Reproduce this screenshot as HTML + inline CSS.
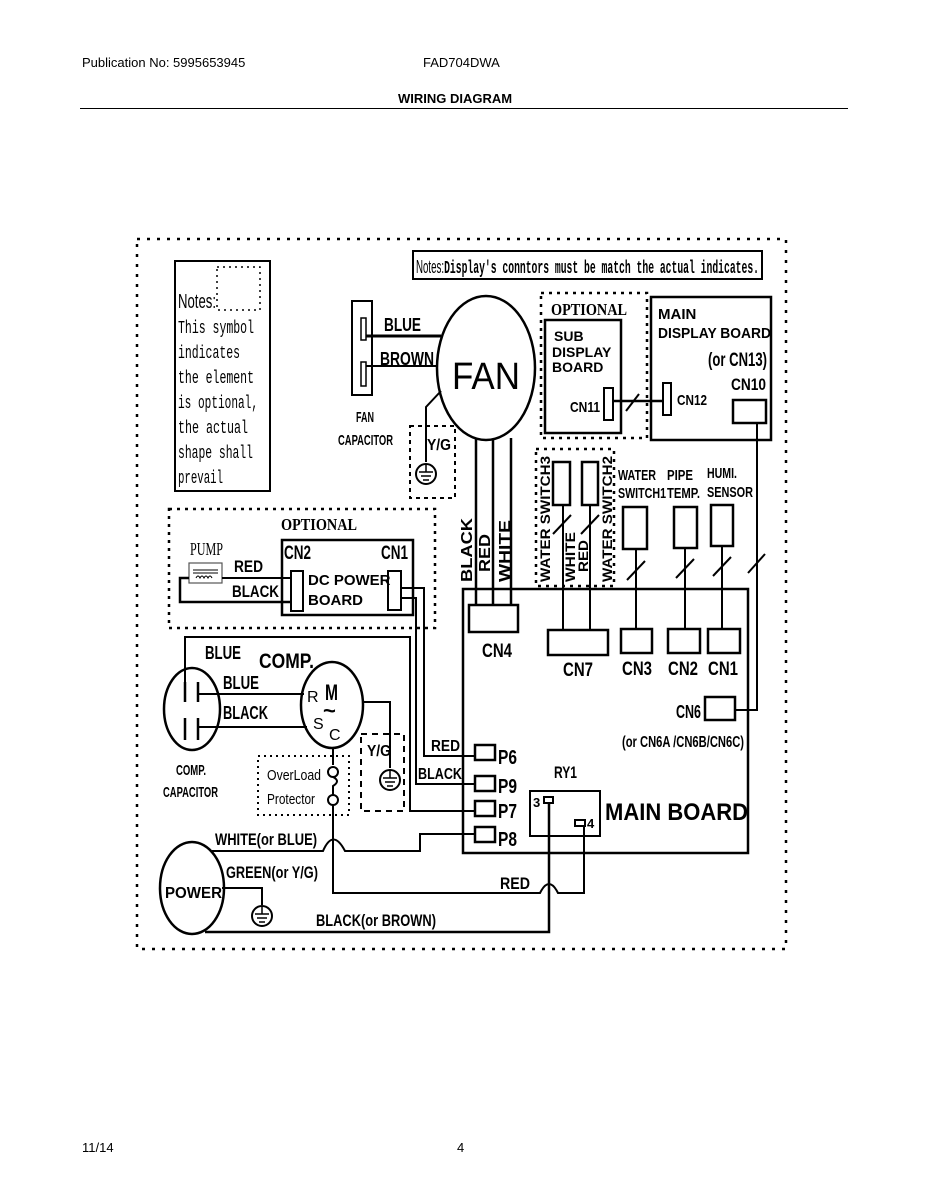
<!DOCTYPE html>
<html><head><meta charset="utf-8"><style>
html,body{margin:0;padding:0;background:#fff;}
svg{display:block;}
text{font-family:"Liberation Sans",sans-serif;fill:#000;}
.b text,text.b{font-weight:bold;}
.m text,text.m{font-family:"Liberation Mono",monospace;}
text.s{font-family:"Liberation Serif",serif;}
</style></head><body>
<svg width="927" height="1200" viewBox="0 0 927 1200" xmlns="http://www.w3.org/2000/svg">
<rect width="927" height="1200" fill="#fff"/>
<!-- header -->
<text x="82" y="67" font-size="13">Publication No: 5995653945</text>
<text x="423" y="67" font-size="13">FAD704DWA</text>
<text x="398" y="103" font-size="13" class="b">WIRING DIAGRAM</text>
<line x1="80" y1="108.5" x2="848" y2="108.5" stroke="#000" stroke-width="1"/>
<text x="82" y="1152" font-size="13">11/14</text>
<text x="457" y="1152" font-size="13">4</text>

<g fill="none" stroke="#000">
<rect x="137" y="239" width="649" height="710" stroke-width="2.5" stroke-dasharray="3,7"/>
<rect x="175" y="261" width="95" height="230" stroke-width="2"/>
<path d="M217 267 H260 V310 H217 Z" stroke-width="1.5" stroke-dasharray="2,4"/>
<rect x="413" y="251" width="349" height="28" stroke-width="2"/>
<rect x="352" y="301" width="20" height="94" stroke-width="2"/>
<rect x="361" y="318" width="5" height="22" stroke-width="1.5"/>
<rect x="361" y="362" width="5" height="24" stroke-width="1.5"/>
<line x1="366" y1="336" x2="441" y2="336" stroke-width="3"/>
<line x1="366" y1="366" x2="437" y2="366" stroke-width="2"/>
<ellipse cx="486" cy="368" rx="49" ry="72" stroke-width="2.5"/>
<path d="M441 391 L426 407 V462" stroke-width="2"/>
<rect x="410" y="426" width="45" height="72" stroke-width="2" stroke-dasharray="4,4"/>
<line x1="476" y1="438" x2="476" y2="605" stroke-width="2.5"/>
<line x1="493" y1="440" x2="493" y2="605" stroke-width="2.5"/>
<line x1="511" y1="438" x2="511" y2="605" stroke-width="2.5"/>
<rect x="469" y="605" width="49" height="27" stroke-width="2.5"/>
<rect x="541" y="293" width="106" height="145" stroke-width="2.5" stroke-dasharray="3,5"/>
<rect x="545" y="320" width="76" height="113" stroke-width="2.5"/>
<rect x="604" y="388" width="9" height="32" stroke-width="2"/>
<line x1="613" y1="401" x2="663" y2="401" stroke-width="2.5"/>
<line x1="626" y1="411" x2="639" y2="394" stroke-width="2"/>
<rect x="651" y="297" width="120" height="143" stroke-width="2.5"/>
<rect x="663" y="383" width="8" height="32" stroke-width="2"/>
<rect x="733" y="400" width="33" height="23" stroke-width="2.5"/>
<rect x="536" y="449" width="78" height="137" stroke-width="2.5" stroke-dasharray="3,5"/>
<rect x="553" y="462" width="17" height="43" stroke-width="2.5"/>
<rect x="582" y="462" width="16" height="43" stroke-width="2.5"/>
<rect x="623" y="507" width="24" height="42" stroke-width="2.5"/>
<rect x="674" y="507" width="23" height="41" stroke-width="2.5"/>
<rect x="711" y="505" width="22" height="41" stroke-width="2.5"/>
<line x1="563" y1="505" x2="563" y2="630" stroke-width="2"/>
<line x1="590" y1="505" x2="590" y2="630" stroke-width="2"/>
<line x1="636" y1="549" x2="636" y2="628" stroke-width="2"/>
<line x1="685" y1="548" x2="685" y2="628" stroke-width="2"/>
<line x1="722" y1="546" x2="722" y2="628" stroke-width="2"/>
<line x1="553" y1="534" x2="571" y2="515" stroke-width="2"/>
<line x1="581" y1="534" x2="599" y2="515" stroke-width="2"/>
<line x1="627" y1="580" x2="645" y2="561" stroke-width="2"/>
<line x1="676" y1="578" x2="694" y2="559" stroke-width="2"/>
<line x1="713" y1="576" x2="731" y2="557" stroke-width="2"/>
<line x1="748" y1="573" x2="765" y2="554" stroke-width="2"/>
<path d="M757 423 V710 H735" stroke-width="2"/>
<rect x="463" y="589" width="285" height="264" stroke-width="2.5"/>
<rect x="548" y="630" width="60" height="25" stroke-width="2.5"/>
<rect x="621" y="629" width="31" height="24" stroke-width="2.5"/>
<rect x="668" y="629" width="32" height="24" stroke-width="2.5"/>
<rect x="708" y="629" width="32" height="24" stroke-width="2.5"/>
<rect x="705" y="697" width="30" height="23" stroke-width="2.5"/>
<rect x="475" y="745" width="20" height="15" stroke-width="2.5"/>
<rect x="475" y="776" width="20" height="15" stroke-width="2.5"/>
<rect x="475" y="801" width="20" height="15" stroke-width="2.5"/>
<rect x="475" y="827" width="20" height="15" stroke-width="2.5"/>
<rect x="530" y="791" width="70" height="45" stroke-width="2"/>
<rect x="544" y="797" width="9" height="6" stroke-width="2"/>
<rect x="575" y="820" width="10" height="6" stroke-width="2"/>
<rect x="169" y="509" width="266" height="119" stroke-width="2.5" stroke-dasharray="3,5"/>
<rect x="282" y="540" width="131" height="75" stroke-width="2.5"/>
<rect x="291" y="571" width="12" height="40" stroke-width="2"/>
<rect x="388" y="571" width="13" height="39" stroke-width="2"/>
<rect x="189" y="563" width="33" height="20" stroke-width="1.2" stroke="#555"/>
<path d="M193 570 H218 M193 573 H218" stroke-width="1"/>
<path d="M196 578 q2 -4 4 0 q2 -4 4 0 q2 -4 4 0 q2 -4 4 0" stroke-width="1"/>
<path d="M222 578 H291" stroke-width="2"/>
<path d="M189 578 H180 V602 H291" stroke-width="2.5"/>
<path d="M401 588 H424 V756 H475" stroke-width="2"/>
<path d="M401 598 H416 V784 H475" stroke-width="2"/>
<ellipse cx="192" cy="709" rx="28" ry="41" stroke-width="2.5"/>
<path d="M185 682 V702 M198 682 V702 M185 718 V740 M198 718 V740" stroke-width="2.5"/>
<path d="M185 682 V637 H410 V811 H475" stroke-width="2"/>
<path d="M198 694 H304" stroke-width="2"/>
<path d="M198 727 H307" stroke-width="2"/>
<ellipse cx="332" cy="705" rx="31" ry="43" stroke-width="2.5"/>
<path d="M363 702 H390 V768" stroke-width="2"/>
<rect x="361" y="734" width="43" height="77" stroke-width="2" stroke-dasharray="6,5"/>
<rect x="258" y="756" width="91" height="59" stroke-width="2" stroke-dasharray="2,4"/>
<path d="M333 748 V765" stroke-width="2"/>
<circle cx="333" cy="772" r="5" stroke-width="2"/>
<circle cx="333" cy="800" r="5" stroke-width="2"/>
<path d="M333 777 Q341 781 333 786 V795" stroke-width="2"/>
<path d="M333 805 V893 H540 Q549 875 558 893 H584 V826" stroke-width="2"/>
<ellipse cx="192" cy="888" rx="32" ry="46" stroke-width="2.5"/>
<path d="M212 851 H323 Q333 828 345 851 H420 V834 H475" stroke-width="2"/>
<path d="M222 888 H262 V905" stroke-width="2"/>
<path d="M205 932 H549 V803" stroke-width="2.5"/>
</g>

<g fill="#fff" stroke="#000" stroke-width="2">
<circle cx="426" cy="474" r="10"/>
<circle cx="390" cy="780" r="10"/>
<circle cx="262" cy="916" r="10"/>
</g>
<g stroke="#000" stroke-width="1.5">
<path d="M426 464 V472 M419 472 H433 M421 476 H431 M423 480 H429"/>
<path d="M390 770 V778 M383 778 H397 M385 782 H395 M387 786 H393"/>
<path d="M262 906 V914 M255 914 H269 M257 918 H267 M259 922 H265"/>
</g>

<text x="178" y="308" font-size="20" textLength="38" lengthAdjust="spacingAndGlyphs">Notes:</text>
<g class="m" font-size="18">
<text x="178" y="333" textLength="76" lengthAdjust="spacingAndGlyphs">This symbol</text>
<text x="178" y="358" textLength="62" lengthAdjust="spacingAndGlyphs">indicates</text>
<text x="178" y="383" textLength="76" lengthAdjust="spacingAndGlyphs">the element</text>
<text x="178" y="408" textLength="80" lengthAdjust="spacingAndGlyphs">is optional,</text>
<text x="178" y="433" textLength="70" lengthAdjust="spacingAndGlyphs">the actual</text>
<text x="178" y="458" textLength="75" lengthAdjust="spacingAndGlyphs">shape shall</text>
<text x="178" y="483" textLength="45" lengthAdjust="spacingAndGlyphs">prevail</text>
</g>
<text x="416" y="273" font-size="18" textLength="343" lengthAdjust="spacingAndGlyphs"><tspan>Notes:</tspan><tspan style="font-family:'Liberation Mono',monospace" font-weight="bold">Display's conntors must be match the actual indicates.</tspan></text>

<g class="b">
<text x="384" y="331" font-size="18" textLength="37" lengthAdjust="spacingAndGlyphs">BLUE</text>
<text x="380" y="365" font-size="18" textLength="54" lengthAdjust="spacingAndGlyphs">BROWN</text>
<text x="452" y="389" font-size="38" textLength="68" lengthAdjust="spacingAndGlyphs" style="font-weight:normal">FAN</text>
<text x="356" y="422" font-size="15" textLength="18" lengthAdjust="spacingAndGlyphs">FAN</text>
<text x="338" y="445" font-size="15" textLength="55" lengthAdjust="spacingAndGlyphs">CAPACITOR</text>
<text x="427" y="450" font-size="16" textLength="24" lengthAdjust="spacingAndGlyphs">Y/G</text>
<text x="554" y="341" font-size="14">SUB</text>
<text x="552" y="357" font-size="14">DISPLAY</text>
<text x="552" y="372" font-size="14">BOARD</text>
<text x="570" y="412" font-size="15" textLength="30" lengthAdjust="spacingAndGlyphs">CN11</text>
<text x="677" y="405" font-size="15" textLength="30" lengthAdjust="spacingAndGlyphs">CN12</text>
<text x="658" y="319" font-size="15">MAIN</text>
<text x="658" y="338" font-size="15" textLength="113" lengthAdjust="spacingAndGlyphs">DISPLAY BOARD</text>
<text x="708" y="366" font-size="19" textLength="59" lengthAdjust="spacingAndGlyphs">(or CN13)</text>
<text x="731" y="390" font-size="17" textLength="35" lengthAdjust="spacingAndGlyphs">CN10</text>
<text x="618" y="480" font-size="15" textLength="38" lengthAdjust="spacingAndGlyphs">WATER</text>
<text x="618" y="498" font-size="15" textLength="48" lengthAdjust="spacingAndGlyphs">SWITCH1</text>
<text x="667" y="480" font-size="15" textLength="26" lengthAdjust="spacingAndGlyphs">PIPE</text>
<text x="667" y="498" font-size="15" textLength="33" lengthAdjust="spacingAndGlyphs">TEMP.</text>
<text x="707" y="478" font-size="15" textLength="30" lengthAdjust="spacingAndGlyphs">HUMI.</text>
<text x="707" y="497" font-size="15" textLength="46" lengthAdjust="spacingAndGlyphs">SENSOR</text>
<text transform="translate(472,582) rotate(-90)" font-size="16" textLength="64" lengthAdjust="spacingAndGlyphs">BLACK</text>
<text transform="translate(490,572) rotate(-90)" font-size="16" textLength="38" lengthAdjust="spacingAndGlyphs">RED</text>
<text transform="translate(510,582) rotate(-90)" font-size="16" textLength="62" lengthAdjust="spacingAndGlyphs">WHITE</text>
<text transform="translate(550,582) rotate(-90)" font-size="14" textLength="126" lengthAdjust="spacingAndGlyphs">WATER SWITCH3</text>
<text transform="translate(575,582) rotate(-90)" font-size="14" textLength="50" lengthAdjust="spacingAndGlyphs">WHITE</text>
<text transform="translate(588,572) rotate(-90)" font-size="14" textLength="32" lengthAdjust="spacingAndGlyphs">RED</text>
<text transform="translate(612,582) rotate(-90)" font-size="14" textLength="126" lengthAdjust="spacingAndGlyphs">WATER SWITCH2</text>
<text x="482" y="657" font-size="19" textLength="30" lengthAdjust="spacingAndGlyphs">CN4</text>
<text x="563" y="676" font-size="19" textLength="30" lengthAdjust="spacingAndGlyphs">CN7</text>
<text x="622" y="675" font-size="19" textLength="30" lengthAdjust="spacingAndGlyphs">CN3</text>
<text x="668" y="675" font-size="19" textLength="30" lengthAdjust="spacingAndGlyphs">CN2</text>
<text x="708" y="675" font-size="19" textLength="30" lengthAdjust="spacingAndGlyphs">CN1</text>
<text x="676" y="718" font-size="18" textLength="25" lengthAdjust="spacingAndGlyphs">CN6</text>
<text x="622" y="747" font-size="16" textLength="122" lengthAdjust="spacingAndGlyphs">(or CN6A /CN6B/CN6C)</text>
<text x="554" y="778" font-size="17" textLength="23" lengthAdjust="spacingAndGlyphs">RY1</text>
<text x="533" y="807" font-size="13">3</text>
<text x="587" y="828" font-size="13">4</text>
<text x="605" y="820" font-size="24" textLength="143" lengthAdjust="spacingAndGlyphs">MAIN BOARD</text>
<text x="498" y="764" font-size="20" textLength="19" lengthAdjust="spacingAndGlyphs">P6</text>
<text x="498" y="793" font-size="20" textLength="19" lengthAdjust="spacingAndGlyphs">P9</text>
<text x="498" y="818" font-size="20" textLength="19" lengthAdjust="spacingAndGlyphs">P7</text>
<text x="498" y="846" font-size="20" textLength="19" lengthAdjust="spacingAndGlyphs">P8</text>
<text x="431" y="751" font-size="16" textLength="29" lengthAdjust="spacingAndGlyphs">RED</text>
<text x="418" y="779" font-size="16" textLength="44" lengthAdjust="spacingAndGlyphs">BLACK</text>
<text x="284" y="559" font-size="19" textLength="27" lengthAdjust="spacingAndGlyphs">CN2</text>
<text x="381" y="559" font-size="19" textLength="27" lengthAdjust="spacingAndGlyphs">CN1</text>
<text x="308" y="585" font-size="15">DC POWER</text>
<text x="308" y="605" font-size="15">BOARD</text>
<text x="234" y="572" font-size="17" textLength="29" lengthAdjust="spacingAndGlyphs">RED</text>
<text x="232" y="597" font-size="17" textLength="47" lengthAdjust="spacingAndGlyphs">BLACK</text>
<text x="205" y="659" font-size="18" textLength="36" lengthAdjust="spacingAndGlyphs">BLUE</text>
<text x="223" y="689" font-size="18" textLength="36" lengthAdjust="spacingAndGlyphs">BLUE</text>
<text x="223" y="719" font-size="18" textLength="45" lengthAdjust="spacingAndGlyphs">BLACK</text>
<text x="259" y="668" font-size="21" textLength="55" lengthAdjust="spacingAndGlyphs">COMP.</text>
<text x="307" y="702" font-size="16" style="font-weight:normal">R</text>
<text x="313" y="729" font-size="16" style="font-weight:normal">S</text>
<text x="329" y="740" font-size="16" style="font-weight:normal">C</text>
<text x="325" y="700" font-size="22" textLength="13" lengthAdjust="spacingAndGlyphs">M</text>
<text x="323" y="718" font-size="22">~</text>
<text x="176" y="775" font-size="15" textLength="30" lengthAdjust="spacingAndGlyphs">COMP.</text>
<text x="163" y="797" font-size="15" textLength="55" lengthAdjust="spacingAndGlyphs">CAPACITOR</text>
<text x="367" y="756" font-size="16" textLength="24" lengthAdjust="spacingAndGlyphs">Y/G</text>
<text x="215" y="845" font-size="17" textLength="102" lengthAdjust="spacingAndGlyphs">WHITE(or BLUE)</text>
<text x="226" y="878" font-size="17" textLength="92" lengthAdjust="spacingAndGlyphs">GREEN(or Y/G)</text>
<text x="165" y="898" font-size="16" textLength="57" lengthAdjust="spacingAndGlyphs">POWER</text>
<text x="316" y="926" font-size="17" textLength="120" lengthAdjust="spacingAndGlyphs">BLACK(or BROWN)</text>
<text x="500" y="889" font-size="17" textLength="30" lengthAdjust="spacingAndGlyphs">RED</text>
</g>
<text x="267" y="780" font-size="15" textLength="54" lengthAdjust="spacingAndGlyphs">OverLoad</text>
<text x="267" y="804" font-size="15" textLength="48" lengthAdjust="spacingAndGlyphs">Protector</text>
<text x="281" y="530" class="s" font-size="17" font-weight="bold" textLength="76" lengthAdjust="spacingAndGlyphs">OPTIONAL</text>
<text x="551" y="315" class="s" font-size="17" font-weight="bold" textLength="76" lengthAdjust="spacingAndGlyphs">OPTIONAL</text>
<text x="190" y="555" class="s" font-size="18" textLength="33" lengthAdjust="spacingAndGlyphs">PUMP</text>
</svg>
</body></html>
